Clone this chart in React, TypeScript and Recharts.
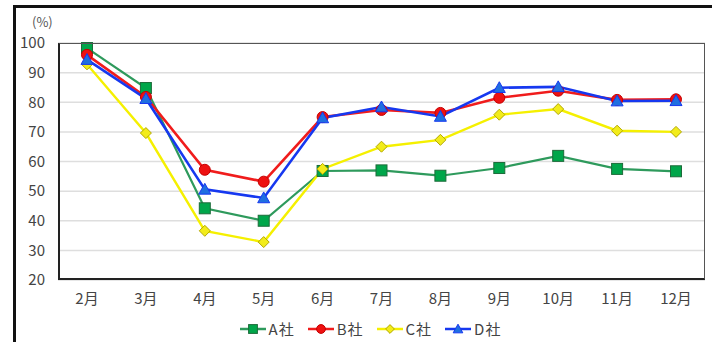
import { CartesianGrid, Legend, Line, LineChart, XAxis, YAxis } from "recharts";

const months = ["2月", "3月", "4月", "5月", "6月", "7月", "8月", "9月", "10月", "11月", "12月"];
const companyA = [98.3, 84.8, 44.2, 40.0, 56.8, 57.0, 55.2, 57.8, 61.9, 57.5, 56.7];
const companyB = [96.0, 81.8, 57.2, 53.2, 75.0, 77.4, 76.4, 81.5, 83.9, 80.8, 81.0];
const companyC = [92.8, 69.6, 36.6, 32.8, 57.5, 65.0, 67.3, 75.8, 77.7, 70.4, 70.0];
const companyD = [94.4, 81.2, 50.6, 47.7, 74.7, 78.4, 75.2, 84.9, 85.2, 80.4, 80.5];
const yTicks = [20, 30, 40, 50, 60, 70, 80, 90, 100];

const series = [
  { key: "a", name: "A社", values: companyA, line: "#2e9a5c", fill: "#00a64a", edge: "#1d6b3a", shape: "square", width: 2.2 },
  { key: "b", name: "B社", values: companyB, line: "#f01c1c", fill: "#ee1111", edge: "#c40000", shape: "circle", width: 2.6 },
  { key: "c", name: "C社", values: companyC, line: "#f5f000", fill: "#f2ec1a", edge: "#b3a800", shape: "diamond", width: 2.4 },
  { key: "d", name: "D社", values: companyD, line: "#1638f0", fill: "#1f6fe0", edge: "#1638f0", shape: "triangle", width: 2.6 },
];

const data = months.map((m, i) => {
  const row: Record<string, string | number> = { month: m };
  series.forEach((s) => (row[s.key] = s.values[i]));
  return row;
});

function Marker({ cx, cy, s, size = 1 }: { cx: number; cy: number; s: (typeof series)[number]; size?: number }) {
  if (cx == null || cy == null) return null;
  if (s.shape === "square") {
    const h = 5.5 * size;
    return <rect x={cx - h} y={cy - h} width={h * 2} height={h * 2} fill={s.fill} stroke={s.edge} strokeWidth={1} />;
  }
  if (s.shape === "circle") {
    return <circle cx={cx} cy={cy} r={5.5 * size} fill={s.fill} stroke={s.edge} strokeWidth={1} />;
  }
  if (s.shape === "diamond") {
    const h = 5.5 * size;
    return (
      <polygon
        points={`${cx},${cy - h} ${cx + h},${cy} ${cx},${cy + h} ${cx - h},${cy}`}
        fill={s.fill}
        stroke={s.edge}
        strokeWidth={1}
      />
    );
  }
  const h = 6 * size;
  return (
    <polygon
      points={`${cx},${cy - h} ${cx + h},${cy + h * 0.8} ${cx - h},${cy + h * 0.8}`}
      fill={s.fill}
      stroke={s.edge}
      strokeWidth={1}
    />
  );
}

function LegendContent() {
  return (
    <div
      style={{
        display: "flex",
        justifyContent: "center",
        gap: 13,
        paddingTop: 6,
        paddingLeft: 36,
        fontFamily: "'Noto Sans CJK JP', sans-serif",
        fontSize: 15,
        color: "#444",
      }}
    >
      {series.map((s) => (
        <div key={s.key} style={{ display: "flex", alignItems: "center" }}>
          <svg width={26} height={14} style={{ marginRight: 3 }}>
            <line x1={0} y1={7} x2={26} y2={7} stroke={s.line} strokeWidth={2.5} />
            <Marker cx={13} cy={7} s={s} size={0.8} />
          </svg>
          <span style={{ letterSpacing: 1 }}>{s.name}</span>
        </div>
      ))}
    </div>
  );
}

const tickStyle = { fill: "#444", fontSize: 15, fontFamily: "'Noto Sans CJK JP', sans-serif" };

export default function App() {
  return (
    <div style={{ position: "absolute", left: 0, top: 0, width: 712, height: 342, overflow: "hidden", background: "#fff" }}>
      <div style={{ position: "absolute", left: 13, top: 5, width: 720, height: 360, border: "3px solid #111" }} />
      <div style={{ position: "absolute", left: 32, top: 12, fontSize: 13, color: "#555", fontFamily: "'Noto Sans CJK JP', sans-serif" }}>(%)</div>
      <div style={{ position: "absolute", left: 0, top: 0 }}>
        <LineChart width={712} height={342} data={data} margin={{ top: 43, right: 7, bottom: 0, left: 0 }}>
          <CartesianGrid vertical={false} stroke="#dedede" strokeWidth={1.5} />
          <XAxis
            dataKey="month"
            axisLine={false}
            tickLine={false}
            tickSize={0}
            tickMargin={13}
            height={32}
            tick={tickStyle}
            interval={0}
            padding={{ left: 29, right: 29 }}
          />
          <YAxis domain={[20, 100]} ticks={yTicks} axisLine={false} tickLine={false} tickSize={0} tickMargin={13} width={58} tick={tickStyle} />
          <Legend verticalAlign="bottom" height={30} content={LegendContent} />
          {series.map((s) => (
            <Line
              key={s.key}
              dataKey={s.key}
              name={s.name}
              stroke={s.line}
              strokeWidth={s.width}
              isAnimationActive={false}
              dot={(p: any) => <Marker key={`${s.key}-${p.index}`} cx={p.cx} cy={p.cy} s={s} />}
              activeDot={false}
            />
          ))}
        </LineChart>
      </div>
      <div
        style={{
          position: "absolute",
          left: 58,
          top: 43,
          width: 647,
          height: 237,
          border: "1px solid #555",
          borderLeft: "2px solid #222",
          borderBottom: "2px solid #222",
          boxSizing: "border-box",
          pointerEvents: "none",
        }}
      />
    </div>
  );
}
